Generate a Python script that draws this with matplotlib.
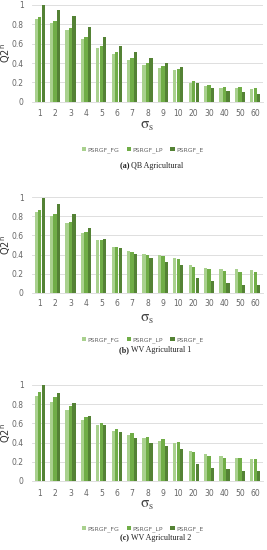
import matplotlib
matplotlib.use("Agg")
import matplotlib.pyplot as plt
import numpy as np

categories = ["1", "2", "3", "4", "5", "6", "7", "8", "9", "10", "20", "30", "40", "50", "60"]
series_names = ["PSRGF_FG", "PSRGF_LP", "PSRGF_E"]

qb_fg = [0.86, 0.81, 0.74, 0.65, 0.56, 0.49, 0.43, 0.38, 0.35, 0.33, 0.19, 0.16, 0.14, 0.14, 0.13]
qb_lp = [0.88, 0.83, 0.76, 0.67, 0.58, 0.51, 0.45, 0.40, 0.37, 0.34, 0.21, 0.17, 0.15, 0.15, 0.14]
qb_e = [1.00, 0.95, 0.89, 0.77, 0.67, 0.58, 0.51, 0.45, 0.40, 0.36, 0.19, 0.14, 0.11, 0.10, 0.08]

wv1_fg = [0.85, 0.80, 0.73, 0.63, 0.55, 0.48, 0.44, 0.41, 0.39, 0.36, 0.29, 0.26, 0.25, 0.25, 0.24]
wv1_lp = [0.87, 0.82, 0.74, 0.64, 0.55, 0.48, 0.43, 0.40, 0.38, 0.35, 0.27, 0.25, 0.23, 0.22, 0.22]
wv1_e = [0.99, 0.93, 0.82, 0.68, 0.56, 0.47, 0.41, 0.36, 0.32, 0.29, 0.15, 0.12, 0.10, 0.08, 0.08]

wv2_fg = [0.89, 0.82, 0.74, 0.64, 0.58, 0.52, 0.48, 0.45, 0.42, 0.40, 0.31, 0.28, 0.26, 0.24, 0.23]
wv2_lp = [0.93, 0.87, 0.78, 0.67, 0.60, 0.54, 0.50, 0.46, 0.44, 0.41, 0.30, 0.26, 0.24, 0.24, 0.23]
wv2_e = [1.00, 0.92, 0.81, 0.68, 0.58, 0.51, 0.45, 0.40, 0.36, 0.33, 0.18, 0.14, 0.12, 0.10, 0.10]

captions = [("(a)", "QB Agricultural"), ("(b)", "WV Agricultural 1"), ("(c)", "WV Agricultural 2")]
yticks = [0, 0.2, 0.4, 0.6, 0.8, 1.0]
ytick_labels = ["0", "0.2", "0.4", "0.6", "0.8", "1"]

colors = ["#a9d18e", "#70ad47", "#548235"]
W, H = 267, 550

plt.rcParams["mathtext.fontset"] = "stix"

fig = plt.figure(figsize=(W / 100, H / 100), dpi=100)
fig.patch.set_facecolor("white")

# pixel layout: (axes top, axes bottom, ticklabel y, sigma y, legend y, caption y)
layouts = [
    (5, 101.7, 112, 126, 150, 166),
    (197.3, 292.7, 302, 318, 340, 350),
    (385, 481, 492, 505, 529, 538),
]
data = [(qb_fg, qb_lp, qb_e), (wv1_fg, wv1_lp, wv1_e), (wv2_fg, wv2_lp, wv2_e)]

left_px, right_px = 32, 263
x = np.arange(len(categories))
bw = 0.21
offsets = [-0.23, 0.0, 0.23]

for (top, bot, tly, sy, ly, cy), vals, cap in zip(layouts, data, captions):
    ax = fig.add_axes([left_px / W, 1 - bot / H, (right_px - left_px) / W, (bot - top) / H])
    handles = []
    for v, off, c, name in zip(vals, offsets, colors, series_names):
        h = ax.bar(x + off, v, width=bw, color=c, label=name, zorder=3)
        handles.append(h)
    ax.set_xlim(-0.5, len(categories) - 0.5)
    ax.set_ylim(0, 1.0)
    ax.set_yticks(yticks)
    ax.set_yticklabels(ytick_labels)
    ax.set_xticks(x)
    ax.set_xticklabels(categories)
    ax.tick_params(axis="both", length=0, labelsize=5.5, colors="#666666")
    ax.tick_params(axis="x", pad=(tly - bot) * 0.72 - 2)
    ax.tick_params(axis="y", pad=6)
    ax.grid(axis="y", color="#d9d9d9", linewidth=0.6, zorder=0)
    for s in ["top", "right", "left"]:
        ax.spines[s].set_visible(False)
    ax.spines["bottom"].set_color("#d9d9d9")
    ax.spines["bottom"].set_linewidth(0.6)
    fig.text(6 / W, 1 - ((top + bot) / 2) / H, "Q2$^{\\mathregular{n}}$", rotation=90,
             ha="center", va="center", fontsize=7, color="#333333")
    fig.text(((left_px + right_px) / 2) / W, 1 - sy / H, r"$\mathrm{\sigma}_\mathrm{s}$", ha="center",
             va="center", fontsize=11, color="#444444")
    fig.legend(handles=handles, labels=series_names, loc="center",
               bbox_to_anchor=(((left_px + right_px) / 2 - 5) / W, 1 - ly / H), ncol=3, frameon=False,
               fontsize=4.5, handlelength=0.7, handleheight=0.7, handletextpad=0.2,
               columnspacing=1.2, labelcolor="#666666")
    fig.text(131 / W, 1 - cy / H, cap[0] + " ", ha="right", va="center", fontsize=5.8,
             family="Liberation Serif", weight="bold", color="#222222")
    fig.text(131 / W, 1 - cy / H, cap[1], ha="left", va="center", fontsize=5.8,
             family="Liberation Serif", color="#222222")

fig.savefig("out.png", dpi=100)
